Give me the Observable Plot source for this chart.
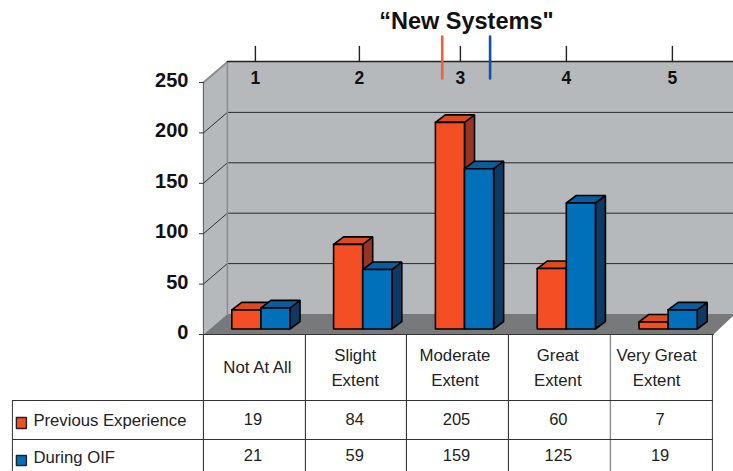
<!DOCTYPE html>
<html>
<head>
<meta charset="utf-8">
<script src="https://cdn.jsdelivr.net/npm/d3@7"></script>
<script src="https://cdn.jsdelivr.net/npm/@observablehq/plot@0.6"></script>
<style>html,body{margin:0;padding:0;background:#fff}svg{display:block}</style>
</head>
<body>
<div id="chart"></div>
<script>
const categories = ["Not At All", "Slight\nExtent", "Moderate\nExtent", "Great\nExtent", "Very Great\nExtent"];
const previousExperience = [19, 84, 205, 60, 7];
const duringOIF = [21, 59, 159, 125, 19];
const yTicks = [0, 50, 100, 150, 200, 250];
const ratingTicks = [1, 2, 3, 4, 5];
const ratingMeans = [2.82, 3.28];
const seriesNames = ["Previous Experience", "During OIF"];

const RED = {front: "#f34e24", top: "#dd4a20", side: "#9a3422", mean: "#f2603a"};
const BLUE = {front: "#0070bb", top: "#0a5c9c", side: "#0e3a62", mean: "#1450a8"};

// pixel layout helpers: everything non-data is placed by inverting the scales
const X = px => (px - 254) / 101.8;
const Y = px => (334 - px) / 1.008;
const dxU = X(254 + 10), dyU = Y(334 - 7.5);
const dyBase = Y(334 - 5.5);
const barW = 0.286, barC = 0.064;
const ratingPx = d3.scaleLinear().domain(ratingTicks).range([255, 359, 460, 566, 672]);
const labelNudge = px => px / 101.8;

const poly = (pts, fill, stroke = "#000", sw = 1.6) =>
  Plot.line([...pts, pts[0]].map(([x, y]) => ({x, y})), {
    x: "x", y: "y", fill, stroke, strokeWidth: sw, strokeLinejoin: "miter"
  });
const pxPoly = (pts, fill, stroke = "none", sw = 1) => poly(pts.map(([a, b]) => [X(a), Y(b)]), fill, stroke, sw);
const seg = (x1, y1, x2, y2, stroke = "#222", sw = 1) =>
  Plot.line([{x: X(x1), y: Y(y1)}, {x: X(x2), y: Y(y2)}], {x: "x", y: "y", stroke, strokeWidth: sw});

function bar3d(i, v, x0, c) {
  const x1 = x0 + barW, b = dyBase, t = v + dyBase;
  return [
    poly([[x1, t], [x1 + dxU, t + dyU], [x1 + dxU, b + dyU], [x1, b]], c.side),
    poly([[x0, t], [x0 + dxU, t + dyU], [x1 + dxU, t + dyU], [x1, t]], c.top),
    poly([[x0, t], [x1, t], [x1, b], [x0, b]], c.front)
  ];
}

const backDy = 20.5, backX = 227;
const marks = [
  // walls and floor
  pxPoly([[203, 82], [227, 61.5], [733, 61.5], [733, 313.5], [227, 313.5], [203, 334]], "#b5b9bc"),
  pxPoly([[203, 334], [227, 313.5], [733, 313.5], [733, 315], [713, 334]], "#77797b"),
  // gridlines on back wall and side wall
  ...yTicks.filter(v => v > 0 && v < 250).map(v => {
    const y = 334 - v * 1.008;
    return seg(backX, y - backDy, 733, y - backDy, "#2a2a2a", 1);
  }),
  ...yTicks.filter(v => v > 0).map(v => {
    const y = 334 - v * 1.008;
    return seg(203, y, backX, y - backDy, v === 250 ? "#8a8d90" : "#333", v === 250 ? 2 : 1);
  }),
  seg(203, 82, 203, 334, "#555", 1),
  seg(227, 61.5, 227, 313.5, "#8a8d90", 1.5),
  ...yTicks.map(v => seg(199, 334 - v * 1.008, 203, 334 - v * 1.008, "#333", 1)),
  // bars
  ...categories.flatMap((_, i) => [
    ...bar3d(i, previousExperience[i], i + barC - barW, RED),
    ...bar3d(i, duringOIF[i], i + barC, BLUE)
  ]),
  // y axis labels
  Plot.text(yTicks, {
    x: X(188), y: d => d, dy: -2, text: d => String(d), textAnchor: "end",
    fontSize: 20, fontWeight: "bold", fill: "#111"
  }),
  // top rating axis
  seg(227, 61, 733, 61, "#222", 1.6),
  ...ratingTicks.map(r => seg(ratingPx(r), 46, ratingPx(r), 61, "#222", 1.4)),
  Plot.text(ratingTicks, {
    x: d => X(ratingPx(d)), y: Y(78), text: d => String(d),
    fontSize: 17.5, fontWeight: "bold", fill: "#111"
  }),
  seg(ratingPx(ratingMeans[0]), 36, ratingPx(ratingMeans[0]), 78, RED.mean, 2.6),
  seg(ratingPx(ratingMeans[1]), 36, ratingPx(ratingMeans[1]), 78, BLUE.mean, 2.6),
  Plot.text(["\u201CNew Systems\""], {
    x: X(466), y: Y(21), text: d => d, fontSize: 23.5, fontWeight: "bold", fill: "#111"
  }),
  // data table rules
  ...[203, 305, 406, 508].map(x => seg(x, 334, x, 471, "#222", 1)),
  seg(610, 334, 610, 471, "#8c8c8c", 1.4),
  seg(712, 334, 712, 471, "#333", 1),
  seg(12, 400, 12, 471, "#333", 1),
  seg(203, 334, 713, 334, "#333", 1),
  seg(12, 400, 712, 400, "#333", 1),
  seg(12, 439, 712, 439, "#333", 1),
  // table text
  Plot.text(categories, {
    x: (d, i) => i + labelNudge([3, -1, -3, -2, -5][i]), y: Y(367.5), dy: -2.5, text: d => d,
    fontSize: 16.8, lineHeight: 1.48, fill: "#222", lineAnchor: "middle"
  }),
  Plot.text(previousExperience, {
    x: (d, i) => i, y: Y(419), dx: -1.5, text: d => String(d), fontSize: 16.5, fill: "#222"
  }),
  Plot.text(duringOIF, {
    x: (d, i) => i, y: Y(455), dx: -1.5, text: d => String(d), fontSize: 16.5, fill: "#222"
  }),
  // legend keys in table
  pxPoly([[16, 417], [26, 417], [26, 428], [16, 428]], RED.front, "#222", 1.4),
  pxPoly([[16, 455], [26, 455], [26, 465], [16, 465]], BLUE.front, "#222", 1.4),
  Plot.text(seriesNames, {
    x: X(33), y: (d, i) => Y(i === 0 ? 420 : 457), text: d => d,
    textAnchor: "start", fontSize: 16.7, fill: "#222"
  })
];

const chart = Plot.plot({
  width: 733, height: 471,
  margin: 0,
  style: {background: "#fff", fontFamily: "'Liberation Sans', Arial, sans-serif"},
  x: {type: "linear", domain: [-0.5, 4.5], range: [203, 712], axis: null},
  y: {type: "linear", domain: [0, 250], range: [334, 82], axis: null},
  marks
});
document.getElementById("chart").append(chart);
</script>
</body>
</html>
